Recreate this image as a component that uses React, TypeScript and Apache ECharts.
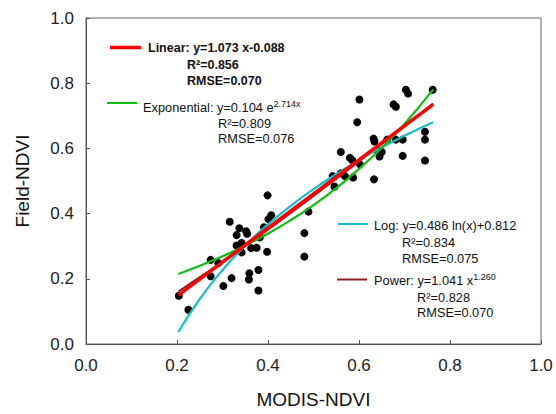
import React, { useEffect, useRef } from "react";
import * as echarts from "echarts";

// Scatter observations (MODIS-NDVI, Field-NDVI)
const modisNdvi = [
  0.204, 0.225, 0.274, 0.291, 0.274, 0.302, 0.320, 0.316, 0.337, 0.352,
  0.354, 0.331, 0.342, 0.331, 0.342, 0.363, 0.375, 0.382, 0.391, 0.401,
  0.407, 0.399, 0.398, 0.379, 0.359, 0.358, 0.379, 0.480, 0.480, 0.489,
  0.542, 0.560, 0.569, 0.587, 0.546, 0.633, 0.560, 0.580, 0.585, 0.602,
  0.632, 0.634, 0.662, 0.681, 0.696, 0.640, 0.650, 0.645, 0.696, 0.745,
  0.745, 0.745, 0.596, 0.601, 0.676, 0.681, 0.703, 0.708, 0.762,
];
const fieldNdvi = [
  0.148, 0.105, 0.258, 0.248, 0.208, 0.178, 0.202, 0.375, 0.355, 0.346,
  0.338, 0.334, 0.310, 0.302, 0.281, 0.294, 0.295, 0.327, 0.358, 0.383,
  0.395, 0.456, 0.283, 0.227, 0.217, 0.198, 0.164, 0.340, 0.268, 0.406,
  0.515, 0.524, 0.515, 0.511, 0.483, 0.505, 0.589, 0.571, 0.564, 0.551,
  0.630, 0.621, 0.627, 0.627, 0.627, 0.595, 0.589, 0.575, 0.577, 0.651,
  0.627, 0.563, 0.680, 0.750, 0.735, 0.728, 0.780, 0.768, 0.780,
];

// Fitted curves, values
const linearX = [0.203, 0.763];
const linearY = [0.150, 0.735];
const expX = [0.203, 0.25, 0.3, 0.35, 0.4, 0.45, 0.5, 0.55, 0.6, 0.65, 0.7, 0.763];
const expY = [0.215, 0.240, 0.269, 0.302, 0.339, 0.380, 0.426, 0.478, 0.537, 0.602, 0.675, 0.781];
const logX = [0.203, 0.25, 0.3, 0.35, 0.4, 0.45, 0.5, 0.55, 0.6, 0.65, 0.7, 0.763];
const logY = [0.037, 0.138, 0.227, 0.302, 0.367, 0.424, 0.475, 0.521, 0.564, 0.603, 0.639, 0.680];
const powX = [0.203, 0.25, 0.3, 0.4, 0.5, 0.6, 0.7, 0.763];
const powY = [0.161, 0.205, 0.252, 0.351, 0.454, 0.560, 0.668, 0.738];

const axisTicks = [0, 0.2, 0.4, 0.6, 0.8, 1.0];

const FONT = '"Liberation Sans", Arial, sans-serif';

const zip = (xs: number[], ys: number[]) => xs.map((x, i) => [x, ys[i]]);

function legendText(x: number, y: number, text: string, bold: boolean, rich?: any) {
  return {
    type: "text",
    x,
    y,
    z: 100,
    style: {
      text,
      fill: "#111",
      fontFamily: FONT,
      fontSize: bold ? 12.5 : 12.8,
      fontWeight: bold ? "bold" : "normal",
      align: "left",
      verticalAlign: "middle",
      rich,
    },
  };
}

function legendLine(x1: number, x2: number, y: number, color: string, w: number) {
  return {
    type: "line",
    z: 100,
    shape: { x1, y1: y, x2, y2: y },
    style: { stroke: color, lineWidth: w },
  };
}

const supRich = {
  n: { fontFamily: FONT, fontSize: 12.8, fill: "#111", lineHeight: 16 },
  s: { fontFamily: FONT, fontSize: 9, fill: "#111", lineHeight: 10, verticalAlign: "top" },
};

export default function App() {
  const ref = useRef<HTMLDivElement>(null);
  useEffect(() => {
    document.body.style.margin = "0";
    if (!ref.current) return;
    const chart = echarts.init(ref.current, null, { renderer: "svg" });
    const axisCommon = {
      type: "value",
      min: 0,
      max: 1,
      interval: 0.2,
      splitLine: { show: false },
      axisLine: { show: true, lineStyle: { color: "#555", width: 1 } },
      axisTick: { show: true, inside: true, length: 4, lineStyle: { color: "#555" } },
      nameLocation: "middle",
      nameTextStyle: { fontFamily: FONT, fontSize: 19, color: "#111" },
    };
    chart.setOption({
      animation: false,
      backgroundColor: "#fff",
      grid: {
        left: 86,
        right: 15,
        top: 18,
        bottom: 68.5,
        show: true,
        borderColor: "#666",
        borderWidth: 1,
        backgroundColor: "transparent",
      },
      xAxis: {
        ...axisCommon,
        name: "MODIS-NDVI",
        nameGap: 46,
        axisLabel: {
          margin: 13,
          fontFamily: FONT,
          fontSize: 17,
          color: "#222",
          formatter: (v: number) => (axisTicks.includes(Math.round(v * 10) / 10) ? v.toFixed(1) : ""),
        },
      },
      yAxis: {
        ...axisCommon,
        name: "Field-NDVI",
        nameGap: 54,
        axisLabel: {
          margin: 12,
          fontFamily: FONT,
          fontSize: 17,
          color: "#222",
          formatter: (v: number) => v.toFixed(1),
        },
      },
      series: [
        {
          type: "scatter",
          data: zip(modisNdvi, fieldNdvi),
          symbol: "circle",
          symbolSize: 8,
          itemStyle: { color: "#000", opacity: 1 },
          z: 2,
        },
        {
          type: "line",
          data: zip(powX, powY),
          showSymbol: false,
          smooth: true,
          lineStyle: { color: "#8b1e1e", width: 2 },
          z: 3,
        },
        {
          type: "line",
          data: zip(logX, logY),
          showSymbol: false,
          smooth: true,
          lineStyle: { color: "#14bfcb", width: 2.2 },
          z: 4,
        },
        {
          type: "line",
          data: zip(expX, expY),
          showSymbol: false,
          smooth: true,
          lineStyle: { color: "#0cbf0c", width: 2.2 },
          z: 5,
        },
        {
          type: "line",
          data: zip(linearX, linearY),
          showSymbol: false,
          lineStyle: { color: "#ff0000", width: 3.5 },
          z: 6,
        },
      ],
      graphic: [
        legendLine(110, 141, 47.5, "#ff0000", 3.5),
        legendText(148, 48, "Linear: y=1.073 x-0.088", true),
        legendText(187, 65, "R²=0.856", true),
        legendText(187, 80.5, "RMSE=0.070", true),

        legendLine(107, 137, 103, "#0cbf0c", 2),
        legendText(143, 107, "{n|Exponential: y=0.104 e}{s|2.714x}", false, supRich),
        legendText(218, 123.5, "R²=0.809", false),
        legendText(218, 138.5, "RMSE=0.076", false),

        legendLine(338, 368, 224, "#14bfcb", 2),
        legendText(374, 225, "Log: y=0.486 ln(x)+0.812", false),
        legendText(402, 242, "R²=0.834", false),
        legendText(402, 258, "RMSE=0.075", false),

        legendLine(337, 367, 279.5, "#8b1e1e", 2),
        legendText(374, 280.5, "{n|Power: y=1.041 x}{s|1.260}", false, supRich),
        legendText(417, 297, "R²=0.828", false),
        legendText(417, 312.5, "RMSE=0.070", false),
      ],
    });
    return () => chart.dispose();
  }, []);
  return (
    <div
      ref={ref}
      style={{ position: "fixed", left: 0, top: 0, width: 556, height: 414, background: "#fff" }}
    />
  );
}
